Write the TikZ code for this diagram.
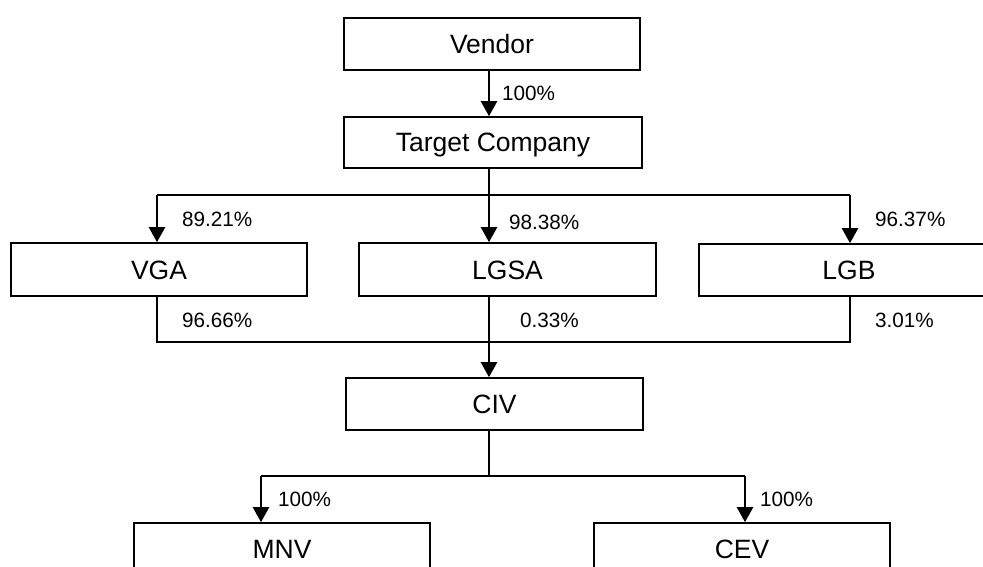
\documentclass[tikz,border=0pt]{standalone}
\usepackage{fontspec}
\setmainfont{Liberation Sans}
\usetikzlibrary{arrows.meta}
\tikzset{
  orgbox/.style={draw=black, line width=1.6pt, minimum width=296pt, minimum height=52pt,
    inner sep=0pt, font=\fontsize{26.5pt}{30pt}\selectfont, text height=19pt, text depth=0pt},
  pct/.style={anchor=west, inner sep=0pt, font=\fontsize{20.7pt}{24pt}\selectfont,
    text height=14.8pt, text depth=0pt},
  stem/.style={line width=2.3pt, -{Triangle[width=16pt,length=15pt]}},
  busline/.style={line width=1.5pt}
}
\begin{document}
\begin{tikzpicture}[x=1pt,y=-1pt]
\useasboundingbox (0,0) rectangle (983,567);
\clip (0,0) rectangle (983,567);
% boxes
\node[orgbox] (vendor) at (492,44) {Vendor};
\node[orgbox, minimum width=298pt, minimum height=51pt] (target) at (493,142.5) {Target Company};
\node[orgbox, minimum height=53pt] (vga) at (159,269.5) {VGA};
\node[orgbox, minimum width=297pt, minimum height=53pt] (lgsa) at (507.5,269.5) {LGSA};
\node[orgbox, minimum width=300pt] (lgb) at (849,270) {LGB};
\node[orgbox, minimum width=297pt] (civ) at (494.5,404) {CIV};
\node[orgbox] (mnv) at (282,549) {MNV};
\node[orgbox] (cev) at (742,549) {CEV};
% helper coordinates
\coordinate (cx) at (489,0);
\coordinate (bus1) at (0,195);
\coordinate (bus2) at (0,342);
\coordinate (bus3) at (0,476);
\coordinate (vx) at (157,0);
\coordinate (bx) at (850,0);
\coordinate (mx) at (261,0);
\coordinate (ex) at (745,0);
% connectors
\draw[stem] (vendor.south -| cx) -- (target.north -| cx);
\draw[busline] (vx |- bus1) -- (bx |- bus1);
\draw[stem] (target.south -| cx) -- (lgsa.north -| cx);
\draw[stem] (vx |- bus1) -- (vga.north -| vx);
\draw[stem] (bx |- bus1) -- (lgb.north -| bx);
\draw[busline] (vga.south -| vx) -- (vx |- bus2) -- (bx |- bus2) -- (lgb.south -| bx);
\draw[stem] (lgsa.south -| cx) -- (civ.north -| cx);
\draw[busline] (civ.south -| cx) -- (cx |- bus3);
\draw[busline] (mx |- bus3) -- (ex |- bus3);
\draw[stem] (mx |- bus3) -- (mnv.north -| mx);
\draw[stem] (ex |- bus3) -- (cev.north -| ex);
% labels
\node[pct] (l1) at (502,93) {100\%};
\node[pct] (l2) at (182,219.5) {89.21\%};
\node[pct] (l3) at (509,222) {98.38\%};
\node[pct] (l4) at (875,219) {96.37\%};
\node[pct] (l5) at (182,320) {96.66\%};
\node[pct] (l6) at (520,320) {0.33\%};
\node[pct] (l7) at (875,320) {3.01\%};
\node[pct] (l8) at (278,499) {100\%};
\node[pct] (l9) at (760,499) {100\%};
\end{tikzpicture}
\end{document}
